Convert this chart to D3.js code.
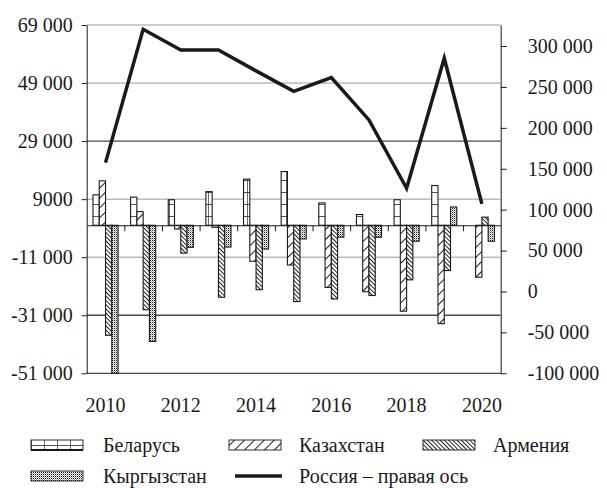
<!DOCTYPE html>
<html>
  <head>
    <meta charset="UTF-8">
    <title>Russia and EAEU partners</title>
    <style type="text/css">
      body {
        margin: 0;
        background-color: #fff;
      }

      svg text {
        font-family: "Liberation Serif", "Times New Roman", serif;
        font-size: 20px;
        fill: #1a1a1a;
      }

      .axis path, .axis line {
        stroke: #1a1a1a;
        stroke-width: 1px;
      }

      .bar {
        stroke: #1a1a1a;
        stroke-width: 1.1px;
      }
    </style>
    <script src="https://cdn.jsdelivr.net/npm/d3@7/dist/d3.min.js"></script>
  </head>
  <body>

    <div id="chart"></div>

    <script type="text/javascript">

      // values
      var years = [2010, 2011, 2012, 2013, 2014, 2015, 2016, 2017, 2018, 2019, 2020];
      var belarus    = [10500, 9700, 8800, 11600, 15900, 18500, 7700, 3700, 8800, 13700, 0];
      var kazakhstan = [15300, 4700, -1300, -700, -12400, -13700, -21400, -22900, -29600, -33900, -17900];
      var armenia    = [-37900, -29100, -9600, -24800, -22200, -26300, -25400, -24200, -18800, -15600, 2800];
      var kyrgyzstan = [-51000, -40000, -7600, -7500, -8200, -4700, -4100, -4100, -5500, 6300, -5500];
      var russia     = [157500, 320500, 295200, 295200, 269600, 244700, 261400, 209700, 126200, 285100, 107000];

      var leftTicks  = [-51000, -31000, -11000, 9000, 29000, 49000, 69000];
      var rightTicks = [-100000, -50000, 0, 50000, 100000, 150000, 200000, 250000, 300000];
      var yearLabels = [2010, 2012, 2014, 2016, 2018, 2020];

      var seriesNames = ["Беларусь", "Казахстан", "Армения", "Кыргызстан"];
      var lineName = "Россия – правая ось";

      var series = [
        { key: "by", name: seriesNames[0], values: belarus },
        { key: "kz", name: seriesNames[1], values: kazakhstan },
        { key: "am", name: seriesNames[2], values: armenia },
        { key: "kg", name: seriesNames[3], values: kyrgyzstan }
      ];

      var width = 607, height = 488;
      // "top" is taken by window.top, so plot edges get their own names
      var plotLeft = 86.7, plotRight = 500.7, plotTop = 25, plotBottom = 373.3;

      var svg = d3.select("#chart")
        .append("svg")
        .attr("width", width)
        .attr("height", height);

      // fill patterns, one per country
      var defs = svg.append("defs");

      var pBy = defs.append("pattern").attr("id", "pat-by")
        .attr("patternUnits", "userSpaceOnUse").attr("width", 13).attr("height", 12);
      pBy.append("rect").attr("width", 13).attr("height", 12).attr("fill", "#fff");
      pBy.append("path").attr("d", "M0,0H13M0,0V12").attr("stroke", "#1a1a1a").attr("stroke-width", 1.3);

      var pKz = defs.append("pattern").attr("id", "pat-kz")
        .attr("patternUnits", "userSpaceOnUse").attr("width", 7).attr("height", 7)
        .attr("patternTransform", "rotate(45)");
      pKz.append("rect").attr("width", 7).attr("height", 7).attr("fill", "#fff");
      pKz.append("line").attr("x1", 0.5).attr("x2", 0.5).attr("y1", 0).attr("y2", 7)
        .attr("stroke", "#1a1a1a").attr("stroke-width", 1);

      var pAm = defs.append("pattern").attr("id", "pat-am")
        .attr("patternUnits", "userSpaceOnUse").attr("width", 3).attr("height", 3)
        .attr("patternTransform", "rotate(-45)");
      pAm.append("rect").attr("width", 3).attr("height", 3).attr("fill", "#fff");
      pAm.append("line").attr("x1", 0.5).attr("x2", 0.5).attr("y1", 0).attr("y2", 3)
        .attr("stroke", "#222").attr("stroke-width", 1);

      var pKg = defs.append("pattern").attr("id", "pat-kg")
        .attr("patternUnits", "userSpaceOnUse").attr("width", 2).attr("height", 2);
      pKg.append("rect").attr("width", 2).attr("height", 2).attr("fill", "#fff");
      pKg.append("rect").attr("width", 1).attr("height", 1).attr("fill", "#111");
      pKg.append("rect").attr("x", 1).attr("y", 1).attr("width", 1).attr("height", 1).attr("fill", "#aaa");

      // scales
      var xBand = d3.scaleBand().domain(years).range([plotLeft, plotRight]).paddingInner(0).paddingOuter(0);
      var xInner = d3.scaleBand().domain(series.map(function(s) { return s.key; }))
        .range([0, xBand.bandwidth()]).paddingInner(0).paddingOuter(1);
      var xIdx = d3.scaleLinear().domain([0, years.length]).range([plotLeft, plotRight]);

      var yL = d3.scaleLinear().domain([-51000, 69000]).range([plotBottom, plotTop]);
      var yR = d3.scaleLinear().domain([-100000, 325700]).range([plotBottom, plotTop]);

      var group = d3.formatLocale({ decimal: ",", thousands: " ", grouping: [3], currency: ["", ""], minus: "-" }).format(",d");
      function fmt(v) { return Math.abs(v) < 10000 ? String(v) : group(v); }

      // horizontal gridlines (two of them print darker in the original)
      var darkLines = [29000, -31000];
      svg.append("g").selectAll("line")
        .data(leftTicks)
        .enter()
        .append("line")
        .attr("x1", plotLeft).attr("x2", plotRight)
        .attr("y1", function(d) { return yL(d); })
        .attr("y2", function(d) { return yL(d); })
        .attr("stroke", function(d) {
          if (d == -51000) return "#1a1a1a";
          return darkLines.indexOf(d) >= 0 ? "#4a4a4a" : "#999";
        })
        .attr("stroke-width", function(d) { return darkLines.indexOf(d) >= 0 ? 1.3 : 1; });

      // bars
      series.forEach(function(s) {
        svg.append("g").selectAll("rect")
          .data(s.values.map(function(v, i) { return { year: years[i], v: v }; })
            .filter(function(d) { return d.v != 0; }))
          .enter()
          .append("rect")
          .attr("class", "bar")
          .attr("x", function(d) { return xBand(d.year) + xInner(s.key); })
          .attr("width", xInner.bandwidth())
          .attr("y", function(d) { return yL(Math.max(0, d.v)); })
          .attr("height", function(d) { return Math.abs(yL(d.v) - yL(0)); })
          .attr("fill", "url(#pat-" + s.key + ")");
      });

      // zero line with category separators
      svg.append("g").attr("class", "axis")
        .attr("transform", "translate(0," + yL(0) + ")")
        .call(d3.axisBottom(xIdx).tickValues(d3.range(1, years.length)).tickSize(6).tickSizeOuter(0).tickFormat(""));

      // year labels under the plot
      var xAxisG = svg.append("g").attr("class", "axis")
        .attr("transform", "translate(0," + plotBottom + ")")
        .call(d3.axisBottom(xBand).tickValues(yearLabels).tickSize(0).tickPadding(25));
      xAxisG.select(".domain").remove();

      // Russia, right axis
      var line = d3.line()
        .x(function(d, i) { return xBand(years[i]) + xBand.bandwidth() / 2; })
        .y(function(d) { return yR(d); });

      svg.append("path")
        .datum(russia)
        .attr("d", line)
        .attr("fill", "none")
        .attr("stroke", "#1a1a1a")
        .attr("stroke-width", 3.5)
        .attr("stroke-linejoin", "miter");

      // axes
      svg.append("g").attr("class", "axis")
        .attr("transform", "translate(" + plotLeft + ",0)")
        .call(d3.axisLeft(yL).tickValues(leftTicks).tickSize(5).tickSizeOuter(0).tickPadding(9).tickFormat(fmt));

      svg.append("g").attr("class", "axis")
        .attr("transform", "translate(" + plotRight + ",0)")
        .call(d3.axisRight(yR).tickValues(rightTicks).tickSize(6).tickSizeOuter(0).tickPadding(21).tickFormat(fmt));

      svg.selectAll(".axis text").style("font-size", "20px").style("font-family", "'Liberation Serif', 'Times New Roman', serif").attr("fill", "#1a1a1a");

      // legend
      var legendItems = series.map(function(s) { return { key: s.key, name: s.name }; })
        .concat([{ key: "ru", name: lineName }]);
      var colX = [31, 229, 423], rowY = [445, 476];

      var items = svg.append("g").selectAll("g")
        .data(legendItems)
        .enter()
        .append("g")
        .attr("transform", function(d, i) { return "translate(" + colX[i % 3] + "," + rowY[Math.floor(i / 3)] + ")"; });

      items.filter(function(d) { return d.key != "ru"; })
        .append("rect")
        .attr("x", 0).attr("y", -5).attr("width", 52).attr("height", 10)
        .attr("fill", function(d) { return "url(#pat-" + d.key + ")"; })
        .attr("stroke", "#1a1a1a").attr("stroke-width", 0.9);

      items.filter(function(d) { return d.key == "by"; })
        .append("line")
        .attr("x1", 0).attr("x2", 52).attr("y1", 5).attr("y2", 5)
        .attr("stroke", "#1a1a1a").attr("stroke-width", 1.8);

      items.filter(function(d) { return d.key == "ru"; })
        .append("line")
        .attr("x1", 6).attr("x2", 53).attr("y1", 0).attr("y2", 0)
        .attr("stroke", "#1a1a1a").attr("stroke-width", 3.5);

      items.append("text")
        .attr("x", function(d, i) { return i == 0 || i == 3 ? 72 : 70; })
        .attr("y", 0)
        .attr("dy", "0.33em")
        .text(function(d) { return d.name; });

    </script>

  </body>
</html>
